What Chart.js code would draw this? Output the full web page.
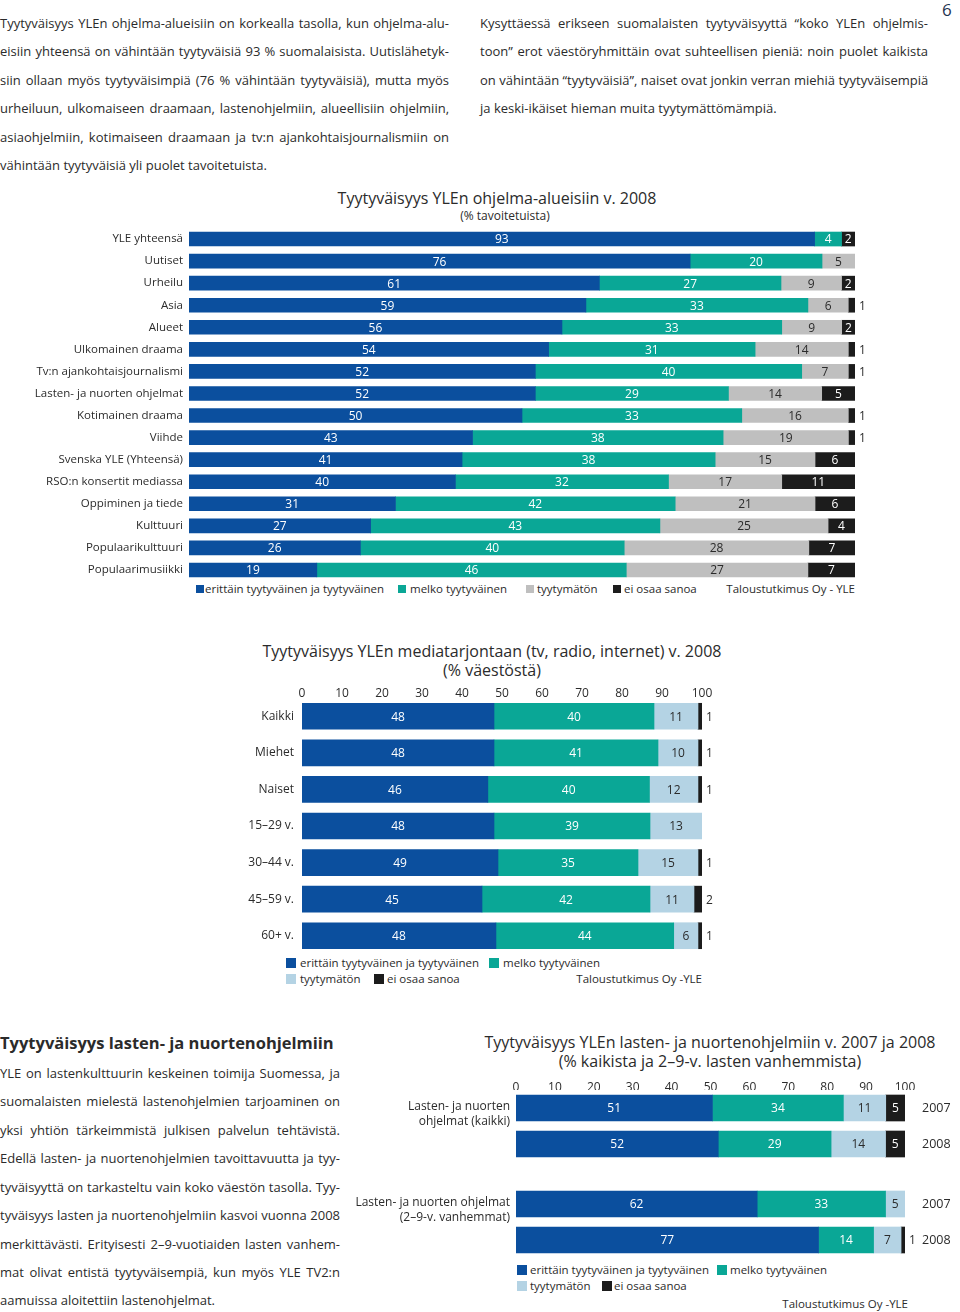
<!DOCTYPE html>
<html><head><meta charset="utf-8">
<script src="https://cdn.jsdelivr.net/npm/chart.js@4.4.0/dist/chart.umd.min.js"></script>
<style>
html,body{margin:0;padding:0;background:#fff;}
#page{position:relative;width:960px;height:1312px;overflow:hidden;font-family:"Open Sans",sans-serif;color:#2b2b2b;}
.t{position:absolute;white-space:nowrap;line-height:20px;height:20px;}
.j{position:absolute;white-space:nowrap;line-height:20px;height:20px;text-align:justify;text-align-last:justify;font-size:13px;}
.p{position:absolute;white-space:nowrap;line-height:20px;height:20px;font-size:13px;}
.c{text-align:center;}
canvas{position:absolute;}
.lg{position:absolute;white-space:nowrap;line-height:16px;height:16px;font-size:11.5px;}
.sq{position:absolute;width:8px;height:8px;}
</style></head>
<body><div id="page">
<div class="t" style="left:942px;top:0px;font-size:17px;color:#1f3550;">6</div>

<div class="j" style="left:0;top:13px;width:449px;">Tyytyväisyys YLEn ohjelma-alueisiin on korkealla tasolla, kun ohjelma-alu-</div>
<div class="j" style="left:0;top:41px;width:449px;">eisiin yhteensä on vähintään tyytyväisiä 93 % suomalaisista. Uutislähetyk-</div>
<div class="j" style="left:0;top:70px;width:449px;">siin ollaan myös tyytyväisimpiä (76 % vähintään tyytyväisiä), mutta myös</div>
<div class="j" style="left:0;top:98px;width:449px;">urheiluun, ulkomaiseen draamaan, lastenohjelmiin, alueellisiin ohjelmiin,</div>
<div class="j" style="left:0;top:127px;width:449px;">asiaohjelmiin, kotimaiseen draamaan ja tv:n ajankohtaisjournalismiin on</div>
<div class="p" style="left:0;top:155px;">vähintään tyytyväisiä yli puolet tavoitetuista.</div>

<div class="j" style="left:480px;top:13px;width:448px;">Kysyttäessä erikseen suomalaisten tyytyväisyyttä “koko YLEn ohjelmis-</div>
<div class="j" style="left:480px;top:41px;width:448px;">toon” erot väestöryhmittäin ovat suhteellisen pieniä: noin puolet kaikista</div>
<div class="j" style="left:480px;top:70px;width:448px;">on vähintään “tyytyväisiä”, naiset ovat jonkin verran miehiä tyytyväisempiä</div>
<div class="p" style="left:480px;top:98px;">ja keski-ikäiset hieman muita tyytymättömämpiä.</div>

<div class="t c" style="left:297px;width:400px;top:188px;font-size:16px;">Tyytyväisyys YLEn ohjelma-alueisiin v. 2008</div>
<div class="t c" style="left:405px;width:200px;top:206px;font-size:12px;">(% tavoitetuista)</div>

<canvas id="c1" width="960" height="353" style="left:0;top:228px;"></canvas>

<div class="sq" style="left:196px;top:585px;background:#0b4f9e;"></div><div class="lg" style="left:205px;top:581px;">erittäin tyytyväinen ja tyytyväinen</div>
<div class="sq" style="left:398px;top:585px;background:#0aa796;"></div><div class="lg" style="left:410px;top:581px;">melko tyytyväinen</div>
<div class="sq" style="left:526px;top:585px;background:#bfbfbf;"></div><div class="lg" style="left:537px;top:581px;">tyytymätön</div>
<div class="sq" style="left:613px;top:585px;background:#1c1c1c;"></div><div class="lg" style="left:624px;top:581px;">ei osaa sanoa</div>
<div class="lg" style="left:655px;width:200px;text-align:right;top:581px;">Taloustutkimus Oy - YLE</div>

<div class="t c" style="left:192px;width:600px;top:641px;font-size:16px;">Tyytyväisyys YLEn mediatarjontaan (tv, radio, internet) v. 2008</div>
<div class="t c" style="left:392px;width:200px;top:660px;font-size:16px;">(% väestöstä)</div>

<canvas id="c2" width="560" height="282" style="left:200px;top:672px;"></canvas>

<div class="sq" style="left:286px;top:958px;width:10px;height:10px;background:#0b4f9e;"></div><div class="lg" style="left:300px;top:955px;">erittäin tyytyväinen ja tyytyväinen</div>
<div class="sq" style="left:489px;top:958px;width:10px;height:10px;background:#0aa796;"></div><div class="lg" style="left:503px;top:955px;">melko tyytyväinen</div>
<div class="sq" style="left:286px;top:974px;width:10px;height:10px;background:#b4d3e4;"></div><div class="lg" style="left:300px;top:971px;">tyytymätön</div>
<div class="sq" style="left:374px;top:974px;width:10px;height:10px;background:#1c1c1c;"></div><div class="lg" style="left:387px;top:971px;">ei osaa sanoa</div>
<div class="lg" style="left:502px;width:200px;text-align:right;top:971px;">Taloustutkimus Oy -YLE</div>

<div class="t" style="left:0;top:1033px;font-size:16.5px;font-weight:bold;">Tyytyväisyys lasten- ja nuortenohjelmiin</div>
<div class="j" style="left:0;top:1063px;width:340px;">YLE on lastenkulttuurin keskeinen toimija Suomessa, ja</div>
<div class="j" style="left:0;top:1091px;width:340px;">suomalaisten mielestä lastenohjelmien tarjoaminen on</div>
<div class="j" style="left:0;top:1120px;width:340px;">yksi yhtiön tärkeimmistä julkisen palvelun tehtävistä.</div>
<div class="j" style="left:0;top:1148px;width:340px;">Edellä lasten- ja nuortenohjelmien tavoittavuutta ja tyy-</div>
<div class="j" style="left:0;top:1177px;width:340px;">tyväisyyttä on tarkasteltu vain koko väestön tasolla. Tyy-</div>
<div class="j" style="left:0;top:1205px;width:340px;">tyväisyys lasten ja nuortenohjelmiin kasvoi vuonna 2008</div>
<div class="j" style="left:0;top:1234px;width:340px;">merkittävästi. Erityisesti 2–9-vuotiaiden lasten vanhem-</div>
<div class="j" style="left:0;top:1262px;width:340px;">mat olivat entistä tyytyväisempiä, kun myös YLE TV2:n</div>
<div class="p" style="left:0;top:1290px;">aamuissa aloitettiin lastenohjelmat.</div>

<div class="t c" style="left:410px;width:600px;top:1032px;font-size:16px;">Tyytyväisyys YLEn lasten- ja nuortenohjelmiin v. 2007 ja 2008</div>
<div class="t c" style="left:410px;width:600px;top:1051px;font-size:16px;">(% kaikista ja 2–9-v. lasten vanhemmista)</div>

<canvas id="c3a" width="610" height="98" style="left:350px;top:1064px;"></canvas>
<canvas id="c3b" width="610" height="72" style="left:350px;top:1186px;"></canvas>

<div class="sq" style="left:517px;top:1265px;width:10px;height:10px;background:#0b4f9e;"></div><div class="lg" style="left:530px;top:1262px;">erittäin tyytyväinen ja tyytyväinen</div>
<div class="sq" style="left:717px;top:1265px;width:10px;height:10px;background:#0aa796;"></div><div class="lg" style="left:730px;top:1262px;">melko tyytyväinen</div>
<div class="sq" style="left:517px;top:1281px;width:10px;height:10px;background:#b4d3e4;"></div><div class="lg" style="left:530px;top:1278px;">tyytymätön</div>
<div class="sq" style="left:602px;top:1281px;width:10px;height:10px;background:#1c1c1c;"></div><div class="lg" style="left:614px;top:1278px;">ei osaa sanoa</div>
<div class="lg" style="left:708px;width:200px;text-align:right;top:1296px;">Taloustutkimus Oy -YLE</div>
</div>

<script>
// ---------- Data ----------
const programCategories = ['YLE yhteensä','Uutiset','Urheilu','Asia','Alueet','Ulkomainen draama','Tv:n ajankohtaisjournalismi','Lasten- ja nuorten ohjelmat','Kotimainen draama','Viihde','Svenska YLE (Yhteensä)','RSO:n konsertit mediassa','Oppiminen ja tiede','Kulttuuri','Populaarikulttuuri','Populaarimusiikki'];
const programVerySatisfied   = [93,76,61,59,56,54,52,52,50,43,41,40,31,27,26,19];
const programFairlySatisfied = [4,20,27,33,33,31,40,29,33,38,38,32,42,43,40,46];
const programDissatisfied    = [null,5,9,6,9,14,7,14,16,19,15,17,21,25,28,27];
const programDontKnow        = [2,null,2,1,2,1,1,5,1,1,6,11,6,4,7,7];

const mediaGroups          = ['Kaikki','Miehet','Naiset','15–29 v.','30–44 v.','45–59 v.','60+ v.'];
const mediaVerySatisfied   = [48,48,46,48,49,45,48];
const mediaFairlySatisfied = [40,41,40,39,35,42,44];
const mediaDissatisfied    = [11,10,12,13,15,11,6];
const mediaDontKnow        = [1,1,1,null,1,2,1];

const kidsYears = ['2007','2008'];
const kidsAllLabel = ['Lasten- ja nuorten','ohjelmat (kaikki)'];
const kidsAllVerySatisfied   = [51,52];
const kidsAllFairlySatisfied = [34,29];
const kidsAllDissatisfied    = [11,14];
const kidsAllDontKnow        = [5,5];
const kidsParentsLabel = ['Lasten- ja nuorten ohjelmat','(2–9-v. vanhemmat)'];
const kidsParentsVerySatisfied   = [62,77];
const kidsParentsFairlySatisfied = [33,14];
const kidsParentsDissatisfied    = [5,7];
const kidsParentsDontKnow        = [null,1];

const axisTickStep = 10;

// ---------- Styles ----------
const BLUE='#0b4f9e', TEAL='#0aa796', GREY='#bfbfbf', LIGHT='#b4d3e4', BLACK='#1c1c1c', TXT='#2b2b2b';
const FONT='"Open Sans", sans-serif';

const segmentLabels = {
  id:'segmentLabels',
  afterDatasetsDraw(chart, args, opts){
    const ctx = chart.ctx; ctx.save();
    ctx.font = (opts.size||12) + 'px ' + FONT;
    ctx.textBaseline = 'middle';
    chart.data.datasets.forEach((ds, di) => {
      const meta = chart.getDatasetMeta(di);
      meta.data.forEach((el, i) => {
        const v = ds.rawValues[i];
        if (v == null || v === 0) return;
        const p = el.getProps(['x','base','y'], true);
        if (ds.outsideMax && v <= ds.outsideMax) {
          ctx.fillStyle = TXT; ctx.textAlign = 'left';
          ctx.fillText(String(v), Math.max(p.x, p.base) + 4, p.y + 1);
        } else {
          ctx.fillStyle = ds.labelColor; ctx.textAlign = 'center';
          ctx.fillText(String(v), (p.x + p.base) / 2, p.y + 1);
        }
      });
    });
    ctx.restore();
  }
};
Chart.register(segmentLabels);

function buildDatasets(series, colors, labelColors, names, thickness, outsideMax){
  const n = series[0].length;
  const totals = [];
  for (let i=0;i<n;i++){ let t=0; series.forEach(s=>{ t += (s[i]||0); }); totals.push(t); }
  return series.map((s, k) => ({
    label: names[k],
    data: s.map((v,i) => v == null ? null : v / totals[i] * 100),
    rawValues: s,
    backgroundColor: colors[k],
    labelColor: labelColors[k],
    outsideMax: k === series.length-1 ? outsideMax : 0,
    borderWidth: 0,
    barThickness: thickness,
    stack: 's'
  }));
}
const names = ['erittäin tyytyväinen ja tyytyväinen','melko tyytyväinen','tyytymätön','ei osaa sanoa'];

function noPad(width){
  return function(s){ s.width = width; s.paddingTop = 0; s.paddingBottom = 0; };
}
function xFit(h){
  return function(s){ s.height = h; s.paddingLeft = 0; s.paddingRight = 0; };
}

// ---------- Chart 1 ----------
new Chart(document.getElementById('c1'), {
  type:'bar',
  data:{ labels: programCategories,
    datasets: buildDatasets([programVerySatisfied, programFairlySatisfied, programDissatisfied, programDontKnow],
      [BLUE,TEAL,GREY,BLACK], ['#fff','#fff',TXT,'#fff'], names, 14, 1) },
  options:{
    indexAxis:'y', responsive:false, animation:false,
    layout:{autoPadding:false, padding:{left:0,right:105,top:0,bottom:0}},
    plugins:{legend:{display:false}, tooltip:{enabled:false}, segmentLabels:{size:12}},
    scales:{
      x:{stacked:true, min:0, max:100, display:false},
      y:{stacked:true, grid:{display:false, drawTicks:false}, border:{display:false},
         ticks:{color:TXT, font:{family:FONT, size:11.5}, padding:6},
         afterFit: noPad(189)}
    }
  }
});

// ---------- Chart 2 ----------
new Chart(document.getElementById('c2'), {
  type:'bar',
  data:{ labels: mediaGroups,
    datasets: buildDatasets([mediaVerySatisfied, mediaFairlySatisfied, mediaDissatisfied, mediaDontKnow],
      [BLUE,TEAL,LIGHT,BLACK], ['#fff','#fff',TXT,'#fff'], names, 26, 2) },
  options:{
    indexAxis:'y', responsive:false, animation:false,
    layout:{autoPadding:false, padding:{left:0,right:58,top:0,bottom:0}},
    plugins:{legend:{display:false}, tooltip:{enabled:false}, segmentLabels:{size:12}},
    scales:{
      x:{stacked:true, min:0, max:100, position:'top',
         grid:{display:false, drawTicks:false}, border:{display:false},
         ticks:{stepSize:axisTickStep, color:TXT, font:{family:FONT, size:12}, padding:-2.5, maxRotation:0},
         afterFit: xFit(26)},
      y:{stacked:true, grid:{display:false, drawTicks:false}, border:{display:false},
         ticks:{color:TXT, font:{family:FONT, size:12}, padding:8},
         afterFit: noPad(102)}
    }
  }
});

// ---------- Chart 3 ----------
function kidsChart(id, groupLabel, series, showAxis){
  const xScale = {stacked:true, min:0, max:100, position:'top', display:showAxis,
     grid:{display:false, drawTicks:false}, border:{display:false},
     ticks:{stepSize:axisTickStep, color:TXT, font:{family:FONT, size:12}, padding:-4.5, maxRotation:0}};
  if (showAxis) xScale.afterFit = xFit(26);
  return new Chart(document.getElementById(id), {
    type:'bar',
    data:{ labels: kidsYears,
      datasets: buildDatasets(series, [BLUE,TEAL,LIGHT,BLACK], ['#fff','#fff',TXT,'#fff'], names, 26, 1) },
    options:{
      indexAxis:'y', responsive:false, animation:false,
      layout:{autoPadding:false, padding:0},
      plugins:{legend:{display:false}, tooltip:{enabled:false}, segmentLabels:{size:12}},
      scales:{
        x: xScale,
        y:{stacked:true, labels:[groupLabel, ''], grid:{display:false, drawTicks:false}, border:{display:false},
           ticks:{color:TXT, font:{family:FONT, size:12}, padding:6, labelOffset:6},
           afterFit: noPad(166)},
        y2:{type:'category', position:'right', display:true, grid:{display:false, drawTicks:false}, border:{display:false},
           ticks:{color:TXT, font:{family:FONT, size:12.5}, padding:17},
           afterFit: noPad(55)}
      }
    }
  });
}
kidsChart('c3a', kidsAllLabel, [kidsAllVerySatisfied, kidsAllFairlySatisfied, kidsAllDissatisfied, kidsAllDontKnow], true);
kidsChart('c3b', kidsParentsLabel, [kidsParentsVerySatisfied, kidsParentsFairlySatisfied, kidsParentsDissatisfied, kidsParentsDontKnow], false);
</script>
</body></html>
